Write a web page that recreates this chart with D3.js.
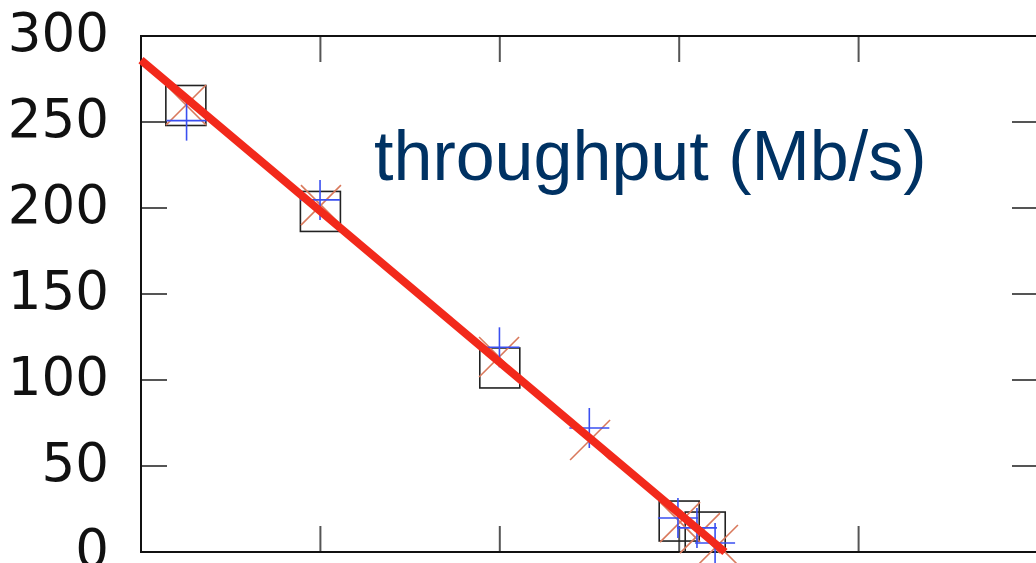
<!DOCTYPE html>
<html><head><meta charset="utf-8">
<script src="https://cdn.jsdelivr.net/npm/d3@7"></script>
<style>html,body{margin:0;padding:0;background:#fff;overflow:hidden}</style>
</head><body>
<script>
const xTicks = [0, 1, 2, 3, 4, 5];
const yTicks = [0, 50, 100, 150, 200, 250, 300];
const squareX = [0.25, 1.0, 2.0, 3.0, 3.145];
const squareY = [259.6, 198, 107, 18, 11.6];
const plusX = [0.254, 0.998, 1.998, 2.499, 2.993, 3.099, 3.2];
const plusY = [250.8, 204.7, 119, 72.1, 19.8, 14, 5.2];
const crossX = [0.251, 1.003, 1.996, 2.503, 3.005, 3.116, 3.216];
const crossY = [259.9, 201.7, 113.4, 65.1, 17.4, 11, 4.1];
const fitX = [0, 3.255];
const fitY = [286, 0];
const title = "throughput (Mb/s)";

const W = 1036, H = 563;
const svg = d3.select("body").append("svg").attr("width", W).attr("height", H);
const x = d3.scaleLinear().domain([0, 5]).range([141, 1038]);
const y = d3.scaleLinear().domain([0, 300]).range([552, 36]);

// ticks (inward)
const tickLen = 26;
const tg = svg.append("g").attr("stroke", "#555").attr("stroke-width", 2);
xTicks.forEach(t => {
  tg.append("line").attr("x1", x(t)).attr("x2", x(t)).attr("y1", y(300)).attr("y2", y(300) + tickLen);
  tg.append("line").attr("x1", x(t)).attr("x2", x(t)).attr("y1", y(0)).attr("y2", y(0) - tickLen);
});
yTicks.forEach(t => {
  tg.append("line").attr("x1", x(0)).attr("x2", x(0) + tickLen).attr("y1", y(t)).attr("y2", y(t));
  tg.append("line").attr("x1", x(5)).attr("x2", x(5) - tickLen).attr("y1", y(t)).attr("y2", y(t));
});

// frame
svg.append("rect").attr("x", x(0)).attr("y", y(300)).attr("width", x(5) - x(0)).attr("height", y(0) - y(300))
  .attr("fill", "none").attr("stroke", "#111").attr("stroke-width", 2);

// y labels
svg.append("g").selectAll("text").data(yTicks).join("text")
  .attr("x", 109).attr("y", d => y(d) + 14.5)
  .attr("text-anchor", "end")
  .attr("font-family", "DejaVu Sans").attr("font-size", 53).attr("fill", "#111")
  .text(d => d);

// squares
const sq = 40;
svg.append("g").selectAll("rect").data(squareX.map((v, i) => [v, squareY[i]])).join("rect")
  .attr("x", d => x(d[0]) - sq / 2).attr("y", d => y(d[1]) - sq / 2)
  .attr("width", sq).attr("height", sq)
  .attr("fill", "none").attr("stroke", "#222").attr("stroke-width", 1.6);

// crosses (x)
const cr = 20;
const cg = svg.append("g").attr("stroke", "#d9795c").attr("stroke-width", 1.6);
crossX.forEach((v, i) => {
  const cx = x(v), cy = y(crossY[i]);
  cg.append("line").attr("x1", cx - cr).attr("y1", cy - cr).attr("x2", cx + cr).attr("y2", cy + cr);
  cg.append("line").attr("x1", cx - cr).attr("y1", cy + cr).attr("x2", cx + cr).attr("y2", cy - cr);
});

// plus
const pr = 20;
const pg = svg.append("g").attr("stroke", "#3a4ff0").attr("stroke-width", 1.6);
plusX.forEach((v, i) => {
  const cx = x(v), cy = y(plusY[i]);
  pg.append("line").attr("x1", cx - pr).attr("y1", cy).attr("x2", cx + pr).attr("y2", cy);
  pg.append("line").attr("x1", cx).attr("y1", cy - pr).attr("x2", cx).attr("y2", cy + pr);
});

// fit line
svg.append("path").datum(fitX.map((v, i) => [v, fitY[i]]))
  .attr("d", d3.line().x(d => x(d[0])).y(d => y(d[1])))
  .attr("fill", "none").attr("stroke", "#f2291b").attr("stroke-width", 8);

// title
svg.append("text").attr("x", 374).attr("y", 180)
  .attr("font-family", "Liberation Sans, Arial, sans-serif").attr("font-size", 70)
  .attr("fill", "#003263").text(title);
</script>
</body></html>
